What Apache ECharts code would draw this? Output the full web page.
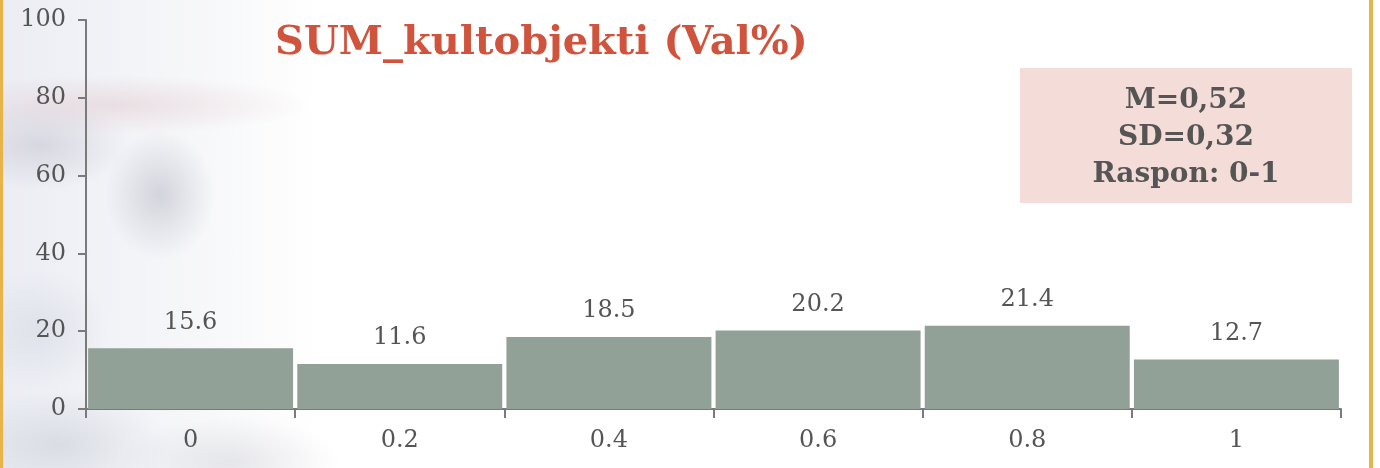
<!DOCTYPE html>
<html><head><meta charset="utf-8">
<script src="https://cdn.jsdelivr.net/npm/echarts@6/dist/echarts.min.js"></script>
<style>
html,body{margin:0;padding:0;background:#fff;}
#wrap{position:relative;width:1380px;height:468px;overflow:hidden;
background:
 radial-gradient(ellipse 55px 65px at 160px 195px, rgba(160,163,178,0.4), rgba(160,163,178,0) 100%),
 radial-gradient(ellipse 200px 30px at 110px 105px, rgba(220,190,195,0.4), rgba(220,190,195,0) 100%),
 radial-gradient(ellipse 90px 45px at 40px 145px, rgba(170,170,185,0.35), rgba(170,170,185,0) 100%),
 radial-gradient(ellipse 110px 55px at 60px 445px, rgba(180,184,198,0.35), rgba(180,184,198,0) 100%),
 radial-gradient(ellipse 110px 45px at 230px 462px, rgba(185,185,195,0.3), rgba(185,185,195,0) 100%),
 radial-gradient(ellipse 70px 60px at 40px 330px, rgba(190,195,210,0.3), rgba(190,195,210,0) 100%),
 linear-gradient(90deg, rgba(232,234,242,0.85) 0px, rgba(240,241,245,0.55) 200px, rgba(255,255,255,0) 320px),
 #fff;}
#lb{position:absolute;left:0;top:0;width:3px;height:468px;background:#e8b44a;}
#rb{position:absolute;left:1369px;top:0;width:4px;height:468px;background:#e8b44a;}
#chart{position:absolute;left:0;top:0;width:1380px;height:468px;}
</style></head>
<body><div id="wrap"><div id="lb"></div><div id="rb"></div><div id="chart"></div></div>
<script>
const categories = ['0','0.2','0.4','0.6','0.8','1'];
const values = [15.6, 11.6, 18.5, 20.2, 21.4, 12.7];
const yTicks = [0, 20, 40, 60, 80, 100];
const titleText = 'SUM_kultobjekti (Val%)';
const statLines = ['M=0,52', 'SD=0,32', 'Raspon: 0-1'];

const serif = 'DejaVu Serif';
const chart = echarts.init(document.getElementById('chart'), null, {renderer:'canvas'});
chart.setOption({
  backgroundColor: 'transparent',
  animation: false,
  grid: {left: 86, right: 39, top: 20, bottom: 59, containLabel: false},
  title: {text: titleText, left: 270, top: 19,
    textStyle: {fontFamily: serif, fontWeight: 'bold', fontSize: 40, color: '#d0543d'}},
  xAxis: {type: 'category', data: categories, boundaryGap: true,
    axisLine: {lineStyle: {color: '#7a7a7a', width: 2}},
    axisTick: {show: true, alignWithLabel: false, length: 9, lineStyle: {color: '#7a7a7a', width: 2}},
    axisLabel: {fontFamily: serif, fontSize: 24, color: '#555', margin: 20}},
  yAxis: {type: 'value', min: 0, max: 100, interval: 20,
    splitLine: {show: false},
    axisLine: {show: true, lineStyle: {color: '#7a7a7a', width: 2}},
    axisTick: {show: true, length: 8, lineStyle: {color: '#7a7a7a', width: 2}},
    axisLabel: {fontFamily: serif, fontSize: 24, color: '#555', margin: 20,
      formatter: v => yTicks.includes(v) ? String(v) : ''}},
  series: [{type: 'bar', data: values, barCategoryGap: '2%',
    itemStyle: {color: '#91a198'},
    label: {show: true, position: 'top', distance: 14, fontFamily: serif, fontSize: 24, color: '#555',
      formatter: p => p.value.toFixed(1)}}],
  graphic: [
    {type: 'rect', left: 1020, top: 68, shape: {width: 332, height: 135}, style: {fill: '#f4dcd8'}, z: 10},
    {type: 'text', x: 1186, y: 138, z: 11,
      style: {text: statLines.join('\n'), fontFamily: serif, fontWeight: 'bold', fontSize: 28, lineHeight: 37,
        fill: '#555', align: 'center', verticalAlign: 'middle'}}
  ]
});
</script></body></html>
